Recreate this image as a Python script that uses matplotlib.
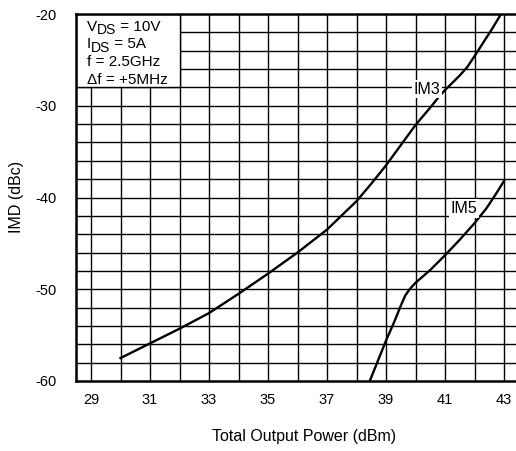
#!/usr/bin/env python3

import matplotlib
matplotlib.use('Agg')
import matplotlib.pyplot as plt
from matplotlib.patches import Rectangle

plt.rcParams['font.family'] = ['Liberation Sans', 'DejaVu Sans']
plt.rcParams['axes.unicode_minus'] = False

# values
im3_pout = [30.0, 31.0, 32.0, 33.0, 34.0, 35.0, 36.0, 37.0, 38.0, 38.5, 39.0,
            39.5, 40.0, 40.5, 40.8, 41.0, 41.25, 41.5, 41.75, 42.0, 42.3, 42.6, 42.9]
im3_imd = [-57.5, -55.9, -54.3, -52.6, -50.5, -48.3, -46.0, -43.5, -40.4, -38.5, -36.5,
           -34.3, -32.1, -30.2, -29.0, -28.3, -27.5, -26.7, -25.8, -24.6, -23.1, -21.6, -20.0]

im5_pout = [38.45, 39.0, 39.3, 39.5, 39.65, 39.8, 40.0, 40.5, 41.0, 41.5, 42.0,
            42.4, 42.75, 43.0]
im5_imd = [-60.0, -55.6, -53.4, -51.8, -50.7, -50.0, -49.3, -47.9, -46.3, -44.6, -42.8,
           -41.2, -39.5, -38.2]

x_ticks = [29, 31, 33, 35, 37, 39, 41, 43]
y_ticks = [-60, -50, -40, -30, -20]
# (main, subscript, rest) for each line of the test conditions
conditions = [('V', 'DS', ' = 10V'), ('I', 'DS', ' = 5A'),
              ('f = 2.5GHz', '', ''), ('\u0394f = +5MHz', '', '')]

W, H = 516, 451
fig = plt.figure(figsize=(W / 100, H / 100), dpi=100)
ax = fig.add_axes([76.25 / W, 70 / H, 442.5 / W, 367 / H])

ax.set_xlim(28.5, 43.5)
ax.set_ylim(-60, -20)

# grid
for gx in range(29, 44):
    ax.axvline(gx, color='black', lw=1.0, zorder=1)
for gy in range(-58, -20, 2):
    ax.axhline(gy, color='black', lw=1.0, zorder=1)

# blank corner for the test conditions
ax.add_patch(Rectangle((28.5, -28), 3.5, 8, facecolor='white', edgecolor='black',
                       lw=1.0, zorder=2))

renderer = fig.canvas.get_renderer()
for i, (main, sub, rest) in enumerate(conditions):
    px = 87
    base = H - (31 + i * 17.5)   # baseline in pixels from bottom
    t = fig.text(px / W, base / H, main, fontsize=11, va='baseline', ha='left', zorder=3)
    px = t.get_window_extent(renderer).x1
    if sub:
        t = fig.text(px / W, (base - 3.5) / H, sub, fontsize=10, va='baseline', ha='left')
        px = t.get_window_extent(renderer).x1
        fig.text(px / W, base / H, rest, fontsize=11, va='baseline', ha='left')

ax.plot(im3_pout, im3_imd, color='black', lw=1.7, zorder=4)
ax.plot(im5_pout, im5_imd, color='black', lw=1.7, zorder=4)

box = dict(facecolor='white', edgecolor='none', pad=1.2)
ax.text(40.39, -28.2, 'IM3', fontsize=11.5, ha='center', va='center', bbox=box, zorder=5)
ax.text(41.63, -41.2, 'IM5', fontsize=11.5, ha='center', va='center', bbox=box, zorder=5)

ax.set_xticks(x_ticks)
ax.set_yticks(y_ticks)
ax.tick_params(axis='both', length=0, labelsize=10.5)
ax.tick_params(axis='x', pad=9)
ax.tick_params(axis='y', pad=14)

for side in ['left', 'bottom', 'top']:
    ax.spines[side].set_linewidth(1.8)
ax.spines['right'].set_visible(False)

fig.text(304 / W, 1 - 437 / H, 'Total Output Power (dBm)', fontsize=11.5,
         ha='center', va='center')
fig.text(16.5 / W, 1 - 196.5 / H, 'IMD (dBc)', fontsize=11.5, rotation=90,
         ha='center', va='center')

fig.savefig('out.png', dpi=100)
